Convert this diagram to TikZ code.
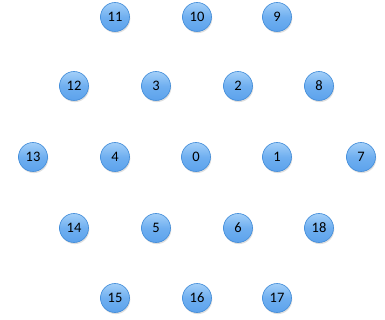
\documentclass[tikz,border=0pt]{standalone}
\usepackage{fontspec}
\setmainfont{Carlito}
\usetikzlibrary{shadows}
\definecolor{balltop}{HTML}{A3CFF8}
\definecolor{ballmid}{HTML}{6FAFF0}
\definecolor{ballbot}{HTML}{5CA2EC}
\definecolor{balledge}{HTML}{3E8AD8}
\begin{document}
\begin{tikzpicture}[x=1pt,y=-1pt,
  ballnode/.style={circle, minimum size=29pt, inner sep=0pt, draw=balledge, line width=0.6pt,
    top color=balltop, bottom color=ballbot, middle color=ballmid,
    drop shadow={opacity=0.25, shadow xshift=0.8pt, shadow yshift=-1.6pt},
    font=\fontsize{14.5}{14.5}\selectfont, text=black}]
\useasboundingbox (0,0) rectangle (385,320);
\node[ballnode] (n11) at (115,17) {11};
\node[ballnode] (n10) at (197,17) {10};
\node[ballnode] (n9) at (277,17) {9};
\node[ballnode] (n12) at (74,86) {12};
\node[ballnode] (n3) at (156,86) {3};
\node[ballnode] (n2) at (238,86) {2};
\node[ballnode] (n8) at (319,86) {8};
\node[ballnode] (n13) at (33,157) {13};
\node[ballnode] (n4) at (115,157) {4};
\node[ballnode] (n0) at (196,157) {0};
\node[ballnode] (n1) at (277,157) {1};
\node[ballnode] (n7) at (361,157) {7};
\node[ballnode] (n14) at (74,228) {14};
\node[ballnode] (n5) at (156,228) {5};
\node[ballnode] (n6) at (238,228) {6};
\node[ballnode] (n18) at (319,228) {18};
\node[ballnode] (n15) at (115,298) {15};
\node[ballnode] (n16) at (197,298) {16};
\node[ballnode] (n17) at (277,298) {17};
\end{tikzpicture}
\end{document}
